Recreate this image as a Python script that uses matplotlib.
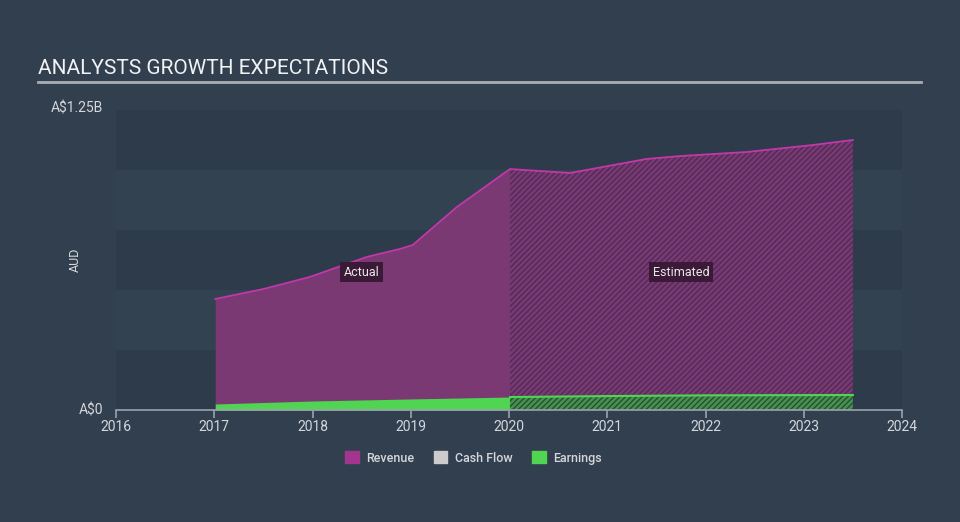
import numpy as np
import matplotlib.pyplot as plt
from matplotlib.patches import Patch

plt.rcParams['font.family'] = ['Roboto', 'DejaVu Sans']
plt.rcParams['hatch.linewidth'] = 1.0

# Data (A$ billions)
rev_actual_years = [2017.01, 2017.5, 2017.97, 2018.55, 2018.89, 2019.02, 2019.47, 2020.01]
rev_actual = [0.4625, 0.504, 0.554, 0.6375, 0.671, 0.6875, 0.846, 1.004]
rev_est_years = [2020.01, 2020.62, 2021.40, 2021.74, 2022.42, 2023.09, 2023.5]
rev_est = [1.004, 0.9875, 1.046, 1.058, 1.075, 1.104, 1.125]

earn_actual_years = [2017.01, 2018.0, 2019.0, 2020.01]
earn_actual = [0.025, 0.0375, 0.046, 0.054]
earn_est_years = [2020.01, 2021.0, 2022.0, 2023.5]
earn_est = [0.054, 0.058, 0.061, 0.0625]

years = list(range(2016, 2025))
legend_labels = ['Revenue', 'Cash Flow', 'Earnings']

bg = '#323f4f'
rev_fill = '#7b3974'
rev_line = '#c238aa'
earn_fill = '#4fd552'
txt = '#d4d8dc'

fig = plt.figure(figsize=(9.6, 5.22), dpi=100, facecolor=bg)
ax = fig.add_axes([116 / 960, 1 - 410 / 522, 786 / 960, 300 / 522])
ax.set_facecolor('#334251')

# banded background
for lo in [0.0, 0.5, 1.0]:
    ax.axhspan(lo, lo + 0.25, color='#2e3b4a', lw=0, zorder=0)

# revenue
ax.fill_between(rev_actual_years, rev_actual, color=rev_fill, lw=0, zorder=2)
ax.fill_between(rev_est_years, rev_est, facecolor=rev_fill, edgecolor='#4e2c55',
                hatch='//////', lw=0, zorder=2)
ax.plot(rev_actual_years + rev_est_years[1:], rev_actual + rev_est[1:],
        color=rev_line, lw=1.3, zorder=3)

# earnings
ax.fill_between(earn_actual_years, earn_actual, color=earn_fill, lw=0, zorder=4)
ax.fill_between(earn_est_years, earn_est, facecolor='#45944c', edgecolor='#2c4a3a',
                hatch='//////', lw=0, zorder=4)
ax.plot(earn_est_years, earn_est, color=earn_fill, lw=1.5, zorder=5)

ax.set_xlim(2016, 2024)
ax.set_ylim(0, 1.25)
for s in ['top', 'right', 'left']:
    ax.spines[s].set_visible(False)
ax.spines['bottom'].set_color('#9aa3ad')
ax.spines['bottom'].set_linewidth(1.2)
ax.spines['bottom'].set_zorder(6)
ax.set_xticks(years)
ax.set_xticklabels([str(y) for y in years])
ax.tick_params(axis='x', colors='#9aa3ad', length=6, width=1.2, labelcolor=txt,
               labelsize=10, pad=1)
ax.set_yticks([])

fig.text(103 / 960, 1 - 410 / 522, 'A$0', color=txt, fontsize=10, ha='right', va='center')
fig.text(103 / 960, 1 - 109 / 522, 'A$1.25B', color=txt, fontsize=10, ha='right', va='center')
fig.text(75 / 960, 1 - 260 / 522, 'AUD', color=txt, fontsize=9, rotation=90,
         ha='center', va='center')

# title + underline
fig.text(38 / 960, 1 - 68 / 522, 'ANALYSTS GROWTH EXPECTATIONS', color='#f0f2f4',
         fontsize=15, ha='left', va='center')
fig.add_artist(plt.Line2D([38 / 960, 921 / 960], [1 - 82 / 522, 1 - 82 / 522],
                          color='#a9aeb3', lw=2))

# labels
box = dict(boxstyle='square,pad=0.3', fc='#3a1a36', ec='none')
ax.text(2018.5, 0.575, 'Actual', color='#e8e8e8', fontsize=9, ha='center', va='center',
        bbox=box, zorder=7)
ax.text(2021.75, 0.575, 'Estimated', color='#e8e8e8', fontsize=9, ha='center', va='center',
        bbox=box, zorder=7)

handles = [Patch(color='#a3358f'), Patch(color='#cccccc'), Patch(color=earn_fill)]
leg = fig.legend(handles, legend_labels, loc='center', bbox_to_anchor=(0.493, 1 - 458 / 522),
                 ncol=3, frameon=False, fontsize=9, handlelength=1.1, handleheight=1.1,
                 columnspacing=1.55, handletextpad=0.6)
for t in leg.get_texts():
    t.set_color(txt)
    t.set_fontweight('medium')

fig.savefig('out.png', dpi=100, facecolor=bg)
